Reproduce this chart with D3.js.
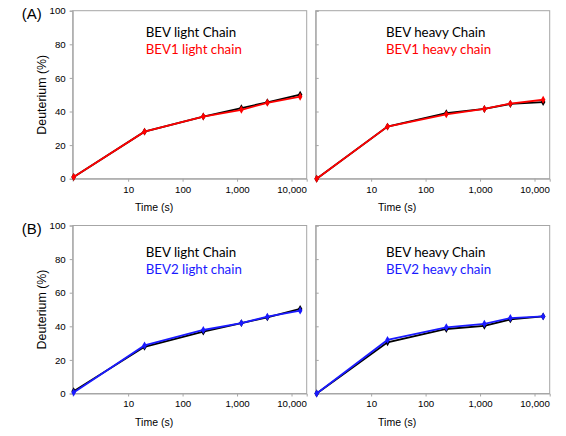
<!DOCTYPE html>
<html lang="en">
<head>
<meta charset="utf-8">
<title>HDX uptake</title>
<script src="https://d3js.org/d3.v7.min.js"></script>
<style>
  body { margin: 0; background: #fff; }
  .tick text { font: 9.7px "Liberation Sans", Arial, sans-serif; fill: #000; }
  .axis-title { font: 10.5px "Liberation Sans", Arial, sans-serif; fill: #000; }
  .ylab { font: 12.4px "Liberation Sans", Arial, sans-serif; fill: #000; }
  .panel-tag { font: 15px "Liberation Sans", Arial, sans-serif; fill: #000; }
  .legend { font: 13.3px Lato, "Open Sans", sans-serif; }
</style>
</head>
<body>
<div id="chart"></div>
<script>
// exchange times (s); first point is the t0 sample drawn on the axis
const times = [1, 20, 240, 1200, 3600, 14400];
const xTicks = [10, 100, 1000, 10000];
const yTicks = [0, 20, 40, 60, 80, 100];

// deuterium uptake (%)
const bevLightA  = [1, 28, 37, 42, 45.5, 50];
const bev1Light  = [1, 28, 37, 41, 45.2, 48.8];
const bevHeavyA  = [0, 31, 39, 41.5, 44.5, 45.6];
const bev1Heavy  = [0, 31, 38.3, 41.5, 44.7, 47];
const bevLightB  = [1.4, 27.8, 36.8, 41.9, 45.3, 50.3];
const bev2Light  = [0.6, 28.6, 37.8, 41.9, 45.7, 49.3];
const bevHeavyB  = [0, 30.5, 38.4, 40.3, 44.1, 45.9];
const bev2Heavy  = [0, 31.9, 39.4, 41.5, 44.9, 45.9];

const W = 566, H = 436;
const pw = 234, ph = 168;

const panels = [
  {x: 72.7, y: 10.7, tag: "(A)", yAxis: true,  ref: bevLightA, cmp: bev1Light, col: "#ff0000",
   l1: "BEV light Chain", l2: "BEV1 light chain", lx: 73, ly: 26},
  {x: 315.7, y: 10.7, tag: null, yAxis: false, ref: bevHeavyA, cmp: bev1Heavy, col: "#ff0000",
   l1: "BEV heavy Chain", l2: "BEV1 heavy chain", lx: 70.3, ly: 26},
  {x: 72.7, y: 225.5, tag: "(B)", yAxis: true,  ref: bevLightB, cmp: bev2Light, col: "#1a1aff",
   l1: "BEV light Chain", l2: "BEV2 light chain", lx: 73, ly: 31},
  {x: 315.7, y: 225.5, tag: null, yAxis: false, ref: bevHeavyB, cmp: bev2Heavy, col: "#1a1aff",
   l1: "BEV heavy Chain", l2: "BEV2 heavy chain", lx: 70.3, ly: 31}
];

const svg = d3.select("#chart").append("svg")
    .attr("width", W).attr("height", H);

const x = d3.scaleLog().domain([0.96, 19000]).range([0, pw]);
const y = d3.scaleLinear().domain([0, 100]).range([ph, 0]);

panels.forEach(p => {
  const g = svg.append("g").attr("transform", "translate(" + p.x + "," + p.y + ")");

  // frame
  g.append("rect")
    .attr("width", pw).attr("height", ph)
    .attr("fill", "none").attr("stroke", "#a6a6a6").attr("stroke-width", 1);

  // x axis
  const xa = g.append("g").attr("transform", "translate(0," + ph + ")")
    .call(d3.axisBottom(x).tickValues(xTicks).tickFormat(d3.format(",")).tickSize(3).tickPadding(4));
  xa.select(".domain").attr("stroke", "#a6a6a6");
  xa.selectAll(".tick line").attr("stroke", "#a6a6a6");

  // y axis
  let ya;
  if (p.yAxis) {
    ya = g.append("g").call(d3.axisLeft(y).tickValues(yTicks).tickSize(3).tickPadding(4));
  } else {
    ya = g.append("g").call(d3.axisRight(y).tickValues(yTicks).tickSize(3).tickFormat(""));
  }
  ya.select(".domain").attr("stroke", "#a6a6a6");
  ya.selectAll(".tick line").attr("stroke", "#a6a6a6");

  g.append("text").attr("class", "axis-title")
    .attr("x", x(30)).attr("y", ph + 32)
    .attr("text-anchor", "middle").text("Time (s)");

  if (p.yAxis) {
    g.append("text").attr("class", "ylab")
      .attr("transform", "translate(" + (-27) + "," + (ph / 2) + ") rotate(-90)")
      .attr("text-anchor", "middle").text("Deuterium (%)");
  }
  if (p.tag) {
    g.append("text").attr("class", "panel-tag")
      .attr("x", -51).attr("y", 8).text(p.tag);
  }

  const line = d3.line().x((d, i) => x(times[i])).y(d => y(d));
  const sym = d3.symbol().type(d3.symbolDiamond).size(18);

  [[p.ref, "#000"], [p.cmp, p.col]].forEach(([vals, c]) => {
    g.append("path").datum(vals)
      .attr("d", line).attr("fill", "none")
      .attr("stroke", c).attr("stroke-width", 1.8);
    g.selectAll(null).data(vals).enter().append("path")
      .attr("d", sym)
      .attr("transform", (d, i) => "translate(" + x(times[i]) + "," + y(d) + ")")
      .attr("fill", c);
  });

  g.append("text").attr("class", "legend")
    .attr("x", p.lx).attr("y", p.ly).attr("fill", "#000").text(p.l1);
  g.append("text").attr("class", "legend")
    .attr("x", p.lx).attr("y", p.ly + 17.7).attr("fill", p.col).text(p.l2);
});
</script>
</body>
</html>
